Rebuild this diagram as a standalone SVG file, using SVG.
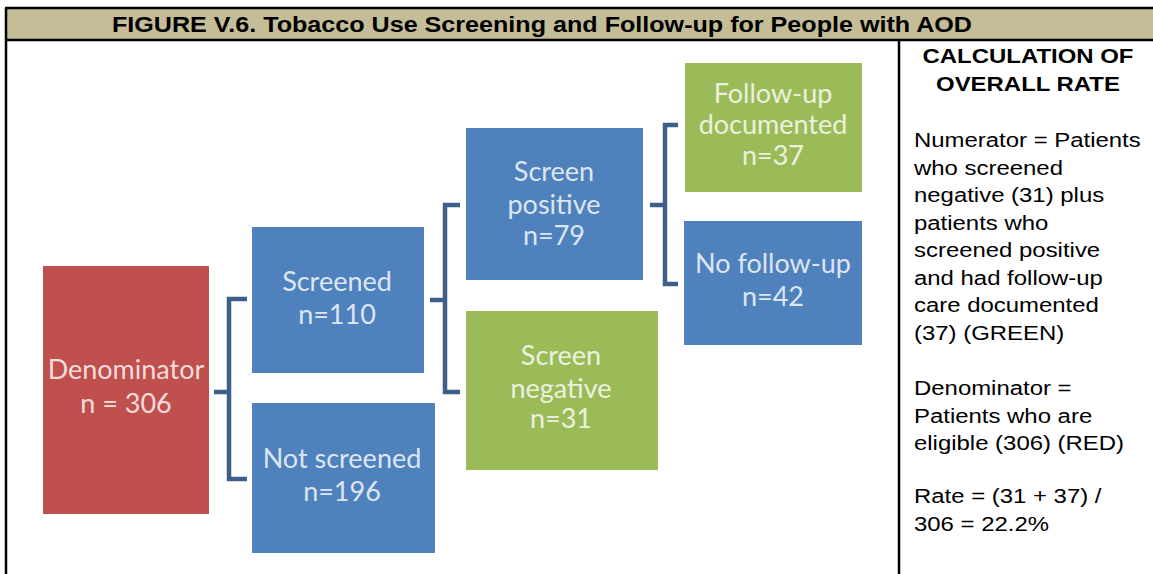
<svg xmlns="http://www.w3.org/2000/svg" width="1153" height="574" viewBox="0 0 1153 574">
<style>
.hdr{font-family:"Liberation Sans",Arial,sans-serif;font-weight:bold;font-size:22px;fill:#000}
.cal{font-family:"Liberation Sans",Arial,sans-serif;font-size:21px;fill:#000}
.calb{font-family:"Liberation Sans",Arial,sans-serif;font-weight:bold;font-size:21px;fill:#000;text-anchor:middle}
.lbl{font-family:Lato,"Open Sans",sans-serif;font-size:27px;text-anchor:middle}
.blue{fill:#4F81BD}
.green{fill:#9BBB59}
.red{fill:#C0504D}
.tb{fill:#DCE6F2}
.tg{fill:#EBF1DE}
.tr{fill:#F2DCDB}
.br{fill:none;stroke:#3E5F8A;stroke-width:4.5}
.rule{stroke:#000;stroke-width:2.5;fill:none}
</style>
<rect x="0" y="0" width="1153" height="574" fill="#fff"/>
<g id="header">
<rect x="5" y="8" width="1148" height="32" fill="#C4BD97"/>
<text class="hdr" x="112" y="32" textLength="860" lengthAdjust="spacingAndGlyphs">FIGURE V.6. Tobacco Use Screening and Follow-up for People with AOD</text>
</g>
<g id="frame">
<line class="rule" x1="5" y1="8" x2="1153" y2="8"/>
<line class="rule" x1="5" y1="40" x2="1153" y2="40"/>
<line class="rule" x1="6" y1="8" x2="6" y2="574"/>
<line class="rule" x1="899" y1="40" x2="899" y2="574"/>
</g>
<g id="connectors">
<path class="br" d="M214 392 H229 M247 299 H229 V479 H247"/>
<path class="br" d="M430 300 H445 M460 205 H445 V392 H460"/>
<path class="br" d="M650 205 H665 M678 125 H665 V284 H678"/>
</g>
<g id="denominator">
<rect class="red" x="43" y="266" width="166" height="248"/>
<text class="lbl tr" x="126" y="379">Denominator</text>
<text class="lbl tr" x="126" y="413">n = 306</text>
</g>
<g id="screened">
<rect class="blue" x="252" y="227" width="172" height="146"/>
<text class="lbl tb" x="337" y="291">Screened</text>
<text class="lbl tb" x="337" y="324">n=110</text>
</g>
<g id="not-screened">
<rect class="blue" x="252" y="403" width="183" height="150"/>
<text class="lbl tb" x="342" y="468">Not screened</text>
<text class="lbl tb" x="342" y="501">n=196</text>
</g>
<g id="screen-positive">
<rect class="blue" x="466" y="128" width="177" height="152"/>
<text class="lbl tb" x="554" y="181">Screen</text>
<text class="lbl tb" x="554" y="214">positive</text>
<text class="lbl tb" x="554" y="245">n=79</text>
</g>
<g id="screen-negative">
<rect class="green" x="466" y="311" width="192" height="159"/>
<text class="lbl tg" x="561" y="365">Screen</text>
<text class="lbl tg" x="561" y="398">negative</text>
<text class="lbl tg" x="561" y="428">n=31</text>
</g>
<g id="follow-up-documented">
<rect class="green" x="685" y="63" width="177" height="129"/>
<text class="lbl tg" x="773" y="103">Follow-up</text>
<text class="lbl tg" x="773" y="134">documented</text>
<text class="lbl tg" x="773" y="165">n=37</text>
</g>
<g id="no-follow-up">
<rect class="blue" x="684" y="221" width="178" height="124"/>
<text class="lbl tb" x="773" y="273">No follow-up</text>
<text class="lbl tb" x="773" y="306">n=42</text>
</g>
<g id="calculation" transform="translate(914,0) scale(1.14,1)">
<text class="calb" x="100" y="63">CALCULATION OF</text>
<text class="calb" x="100" y="91">OVERALL RATE</text>
<text class="cal" x="0" y="147">Numerator = Patients</text>
<text class="cal" x="0" y="175">who screened</text>
<text class="cal" x="0" y="202">negative (31) plus</text>
<text class="cal" x="0" y="230">patients who</text>
<text class="cal" x="0" y="257">screened positive</text>
<text class="cal" x="0" y="285">and had follow-up</text>
<text class="cal" x="0" y="312">care documented</text>
<text class="cal" x="0" y="340">(37) (GREEN)</text>
<text class="cal" x="0" y="395">Denominator =</text>
<text class="cal" x="0" y="423">Patients who are</text>
<text class="cal" x="0" y="450">eligible (306) (RED)</text>
<text class="cal" x="0" y="503">Rate = (31 + 37) /</text>
<text class="cal" x="0" y="531">306 = 22.2%</text>
</g>
</svg>
